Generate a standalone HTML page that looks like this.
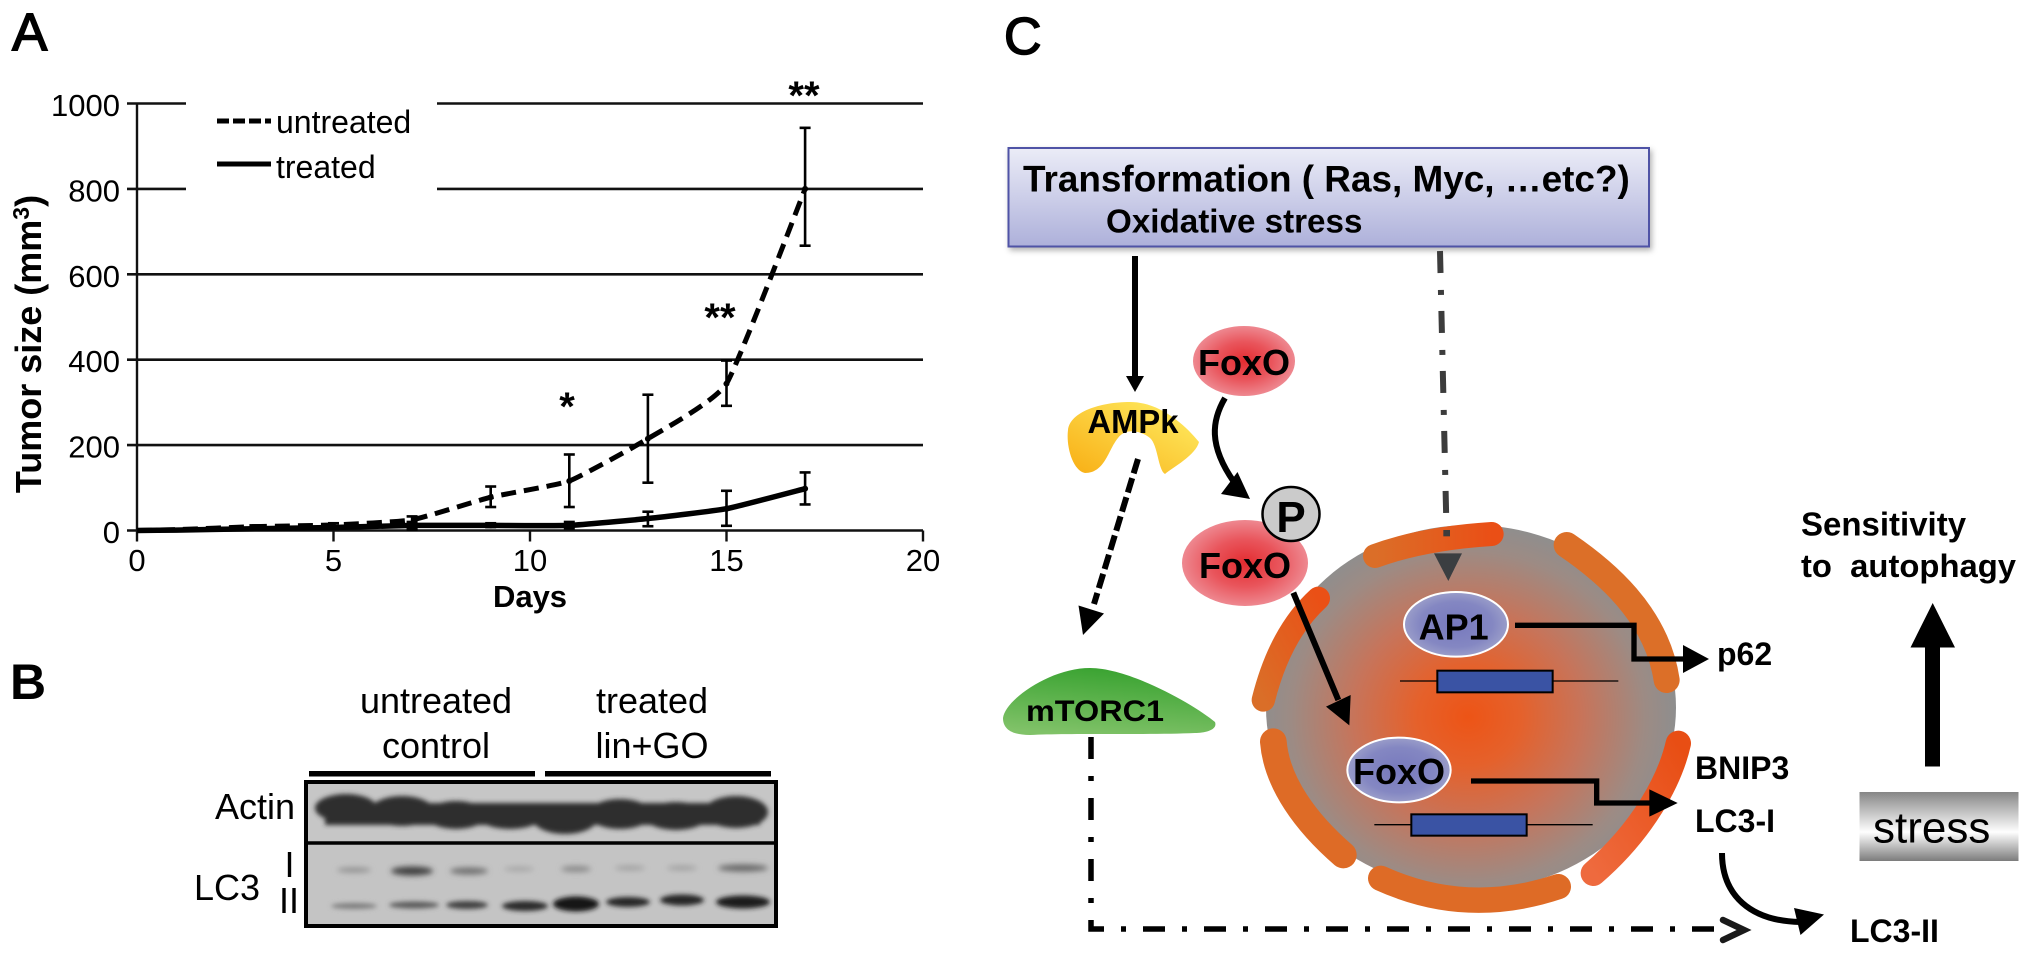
<!DOCTYPE html>
<html lang="en">
<head>
<meta charset="utf-8">
<title>Tumor growth, LC3 blot and FoxO autophagy pathway</title>
<style>
html,body{margin:0;padding:0;background:#fff;}
body{width:2031px;height:959px;overflow:hidden;}
svg{display:block;}
text{font-family:"Liberation Sans",Arial,sans-serif;fill:#000;white-space:pre;}
.b{font-weight:bold;}
</style>
</head>
<body>
<svg xmlns="http://www.w3.org/2000/svg" width="2031" height="959" viewBox="0 0 2031 959">
<defs>
  <linearGradient id="boxGrad" x1="0" y1="0" x2="0" y2="1"><stop offset="0" stop-color="#ebecf7"/><stop offset="1" stop-color="#adb0da"/></linearGradient>
  <radialGradient id="redGrad"><stop offset="0" stop-color="#e32c30"/><stop offset=".55" stop-color="#e9555c"/><stop offset="1" stop-color="#ee8890"/></radialGradient>
  <radialGradient id="blueGrad"><stop offset="0" stop-color="#7779bd"/><stop offset=".7" stop-color="#8487c2"/><stop offset="1" stop-color="#9a9dc9"/></radialGradient>
  <linearGradient id="ampkGrad" x1="0" y1="1" x2="1" y2="0"><stop offset="0" stop-color="#f8ae14"/><stop offset="1" stop-color="#fff066"/></linearGradient>
  <linearGradient id="mtorGrad" x1=".35" y1="1" x2=".6" y2="0"><stop offset="0" stop-color="#80c268"/><stop offset="1" stop-color="#38a230"/></linearGradient>
  <radialGradient id="nucGrad" gradientUnits="userSpaceOnUse" cx="0" cy="0" r="1" gradientTransform="translate(1468 717) scale(208 195)">
    <stop offset="0" stop-color="#ed5416"/><stop offset=".25" stop-color="#e5612b"/><stop offset=".55" stop-color="#c7745a"/><stop offset=".85" stop-color="#9d8b84"/><stop offset="1" stop-color="#8e8e8e"/>
  </radialGradient>
  <linearGradient id="memA" x1="0" y1="0" x2="1" y2="0"><stop offset="0" stop-color="#db6e28"/><stop offset="1" stop-color="#ea4f16"/></linearGradient>
  <linearGradient id="memB" x1="1" y1="0" x2="0" y2="1"><stop offset="0" stop-color="#ea5016"/><stop offset="1" stop-color="#da6e28"/></linearGradient>
  <linearGradient id="memC" x1="1" y1="0" x2="0" y2="1"><stop offset="0" stop-color="#e84e14"/><stop offset="1" stop-color="#ee6a3e"/></linearGradient>
  <linearGradient id="stressGrad" x1="0" y1="0" x2="0" y2="1"><stop offset="0" stop-color="#868686"/><stop offset=".58" stop-color="#ffffff"/><stop offset="1" stop-color="#7c7c7c"/></linearGradient>
  <filter id="blotBlur" x="-20%" y="-60%" width="140%" height="220%"><feGaussianBlur stdDeviation="2.4"/></filter>
  <filter id="blotBlurSoft" x="-30%" y="-100%" width="160%" height="300%"><feGaussianBlur stdDeviation="3"/></filter>
  <filter id="boxShadow" x="-3%" y="-10%" width="106%" height="125%"><feDropShadow dx="2" dy="3" stdDeviation="3" flood-color="#000" flood-opacity=".3"/></filter>
</defs>

<!-- PANEL A -->
<g>
  <text x="12" y="50" font-size="53" stroke="#000" stroke-width="1.5">A</text>
  <g id="grid"></g>
  <rect x="186" y="95" width="251" height="105" fill="#fff"/>
  <g id="axes"></g>
  <g id="errors"></g>
  <g id="series"></g>
  <text class="b" x="0" y="0" font-size="36" text-anchor="middle" transform="translate(41 344) rotate(-90)">Tumor size (mm<tspan dy="-12" font-size="23">3</tspan><tspan dy="12">)</tspan></text>
  <text class="b" x="530" y="607" font-size="31" text-anchor="middle">Days</text>
  <g>
    <line x1="217" y1="121" x2="271" y2="121" stroke="#000" stroke-width="5" stroke-dasharray="12 4"/>
    <text x="276" y="133" font-size="32">untreated</text>
    <line x1="217" y1="164" x2="271" y2="164" stroke="#000" stroke-width="5"/>
    <text x="276" y="178" font-size="32">treated</text>
  </g>
  <text class="b" x="804" y="109" font-size="40" text-anchor="middle">**</text>
  <text class="b" x="720" y="331" font-size="40" text-anchor="middle">**</text>
  <text class="b" x="567" y="420" font-size="40" text-anchor="middle">*</text>
</g>

<!-- PANEL B -->
<g>
  <text class="b" x="10" y="699" font-size="50">B</text>
  <text x="436" y="713" font-size="36" text-anchor="middle">untreated</text>
  <text x="436" y="758" font-size="36" text-anchor="middle">control</text>
  <text x="652" y="713" font-size="36" text-anchor="middle">treated</text>
  <text x="652" y="758" font-size="36" text-anchor="middle">lin+GO</text>
  <rect x="309" y="771" width="226" height="5.5"/>
  <rect x="545" y="771" width="226" height="5.5"/>
  <text x="215" y="819" font-size="36">Actin</text>
  <text x="194" y="900" font-size="36">LC3</text>
  <text x="289.5" y="877" font-size="36" text-anchor="middle">I</text>
  <text x="289" y="913" font-size="36" text-anchor="middle">II</text>
  <g>
    <rect x="306" y="782" width="470" height="61" fill="#c6c6c6"/>
    <rect x="306" y="843" width="470" height="83" fill="#c4c4c4"/>
    <g fill="#2d2d2d" filter="url(#blotBlur)">
      <rect x="325" y="803" width="435" height="22"/>
      <ellipse cx="346" cy="808" rx="31" ry="14"/><ellipse cx="402" cy="811" rx="32" ry="15"/>
      <ellipse cx="456" cy="815" rx="31" ry="14"/><ellipse cx="510" cy="816" rx="32" ry="13"/>
      <ellipse cx="565" cy="819" rx="32" ry="15"/><ellipse cx="620" cy="814" rx="32" ry="15"/>
      <ellipse cx="676" cy="816" rx="32" ry="14"/><ellipse cx="736" cy="812" rx="32" ry="16"/>
    </g>
    <g filter="url(#blotBlurSoft)">
      <ellipse cx="354" cy="870" rx="17" ry="2.5" fill="#8e8e8e"/><ellipse cx="412" cy="871" rx="21" ry="4.5" fill="#404040"/>
      <ellipse cx="469" cy="871" rx="19" ry="3.5" fill="#707070"/><ellipse cx="519" cy="869" rx="15" ry="2" fill="#a0a0a0"/>
      <ellipse cx="576" cy="869" rx="15" ry="3" fill="#888"/><ellipse cx="630" cy="868" rx="15" ry="2.5" fill="#a0a0a0"/>
      <ellipse cx="682" cy="868" rx="15" ry="2.5" fill="#a0a0a0"/><ellipse cx="743" cy="868" rx="25" ry="3.5" fill="#666"/>
    </g>
    <g filter="url(#blotBlur)">
      <ellipse cx="354" cy="906" rx="23" ry="3" fill="#7e7e7e"/><ellipse cx="414" cy="905" rx="25" ry="3.5" fill="#5c5c5c"/>
      <ellipse cx="467" cy="905" rx="21" ry="4" fill="#404040"/><ellipse cx="525" cy="906" rx="23" ry="5" fill="#2a2a2a"/>
      <ellipse cx="576" cy="904" rx="23" ry="7.5" fill="#141414"/><ellipse cx="628" cy="902" rx="22" ry="5" fill="#282828"/>
      <ellipse cx="682" cy="900" rx="22" ry="5.5" fill="#262626"/><ellipse cx="743" cy="902" rx="27" ry="6.5" fill="#1e1e1e"/>
    </g>
    <rect x="306" y="782" width="470" height="144" fill="none" stroke="#000" stroke-width="4"/>
    <line x1="306" y1="843" x2="776" y2="843" stroke="#000" stroke-width="3.5"/>
  </g>
</g>

<!-- PANEL C -->
<g>
  <text x="1004" y="54" font-size="52" stroke="#000" stroke-width="1.5">C</text>

  <rect x="1008.5" y="148" width="640.5" height="98.5" fill="url(#boxGrad)" stroke="#4f52a6" stroke-width="2" filter="url(#boxShadow)"/>
  <text class="b" x="1023" y="191.5" font-size="36.9">Transformation ( Ras, Myc, …etc?)</text>
  <text class="b" x="1106" y="232.5" font-size="33.2">Oxidative stress</text>

  <g>
    <line x1="1135" y1="256" x2="1135" y2="378" stroke="#000" stroke-width="6"/>
    <polygon points="1126,376 1144,376 1135,392" fill="#000"/>
  </g>

  <path d="M1440,251 L1446.7,538" fill="none" stroke="#3c3c3c" stroke-width="6" stroke-dasharray="22 17 5 16"/>

  <path d="M1085,473 C1072,470 1066,445 1068,430 C1070,412 1100,402 1130,402 C1160,402 1185,425 1199,442 C1196,455 1172,468 1165,474 C1158,470 1158,445 1150,438 C1140,430 1125,428 1118,438 C1108,450 1105,473 1085,473 Z" fill="url(#ampkGrad)"/>
  <text class="b" x="1133" y="433" font-size="33" text-anchor="middle" textLength="91" lengthAdjust="spacingAndGlyphs">AMPk</text>

  <g>
    <line x1="1138" y1="459" x2="1094" y2="604" stroke="#000" stroke-width="6" stroke-dasharray="15 5"/>
    <polygon points="1078.5,605.5 1104,613.5 1083,635" fill="#000"/>
  </g>

  <path d="M1003,718 C1005,700 1050,668 1090,668 C1130,668 1195,705 1215,722 C1218,730 1205,733 1195,733 C1150,735 1070,733 1030,735 C1010,735 1003,728 1003,718 Z" fill="url(#mtorGrad)"/>
  <text class="b" x="1026" y="721" font-size="30" textLength="138" lengthAdjust="spacingAndGlyphs">mTORC1</text>

  <g>
    <path d="M1091,737 V929 H1714" fill="none" stroke="#000" stroke-width="5.5" stroke-dasharray="22 17 5 17"/>
    <path d="M1723,920 L1744,930 L1723,940" fill="none" stroke="#1a1a1a" stroke-width="6.5" stroke-linecap="round" stroke-linejoin="miter"/>
  </g>

  <ellipse cx="1244" cy="361" rx="51" ry="35" fill="url(#redGrad)"/>
  <text class="b" x="1244" y="375" font-size="36" text-anchor="middle">FoxO</text>

  <g>
    <path d="M1225,398 C1212,420 1208,445 1234,482" fill="none" stroke="#000" stroke-width="6"/>
    <polygon points="1221,494 1237.5,472 1250,499" fill="#000"/>
  </g>

  <ellipse cx="1471" cy="707.5" rx="205" ry="182.5" fill="url(#nucGrad)"/>

  <g transform="translate(1250 510) scale(.33333)">
    <g fill="none" stroke-linecap="round">
      <path d="M375,138 Q520,85 725,72" stroke="url(#memA)" stroke-width="72"/>
      <path d="M205,265 Q90,370 40,570" stroke="url(#memB)" stroke-width="70"/>
      <path d="M70,695 C80,820 170,940 280,1035" stroke="#de6b26" stroke-width="80"/>
      <path d="M392,1105 Q650,1222 925,1130" stroke="#de6b26" stroke-width="76"/>
      <path d="M1285,700 C1260,810 1180,960 1030,1090" stroke="url(#memC)" stroke-width="76"/>
      <path d="M950,105 C1060,180 1220,310 1250,510" stroke="#dc6f28" stroke-width="78"/>
    </g>
    <rect x="580" y="60" width="20" height="19" fill="#3c3c3c"/>
    <polygon points="552,130 636,130 595,213" fill="#3b3e41"/>

    <ellipse cx="618" cy="343" rx="156" ry="97" fill="url(#blueGrad)" stroke="#fff" stroke-width="6"/>
    <ellipse cx="447" cy="780" rx="155" ry="97" fill="url(#blueGrad)" stroke="#fff" stroke-width="6"/>

    <g>
      <line x1="450" y1="513" x2="1105" y2="513" stroke="#000" stroke-width="4"/>
      <rect x="562" y="482" width="346" height="65" fill="#3a53a4" stroke="#000" stroke-width="6"/>
    </g>
    <g>
      <line x1="373" y1="944" x2="1028" y2="944" stroke="#000" stroke-width="4"/>
      <rect x="484" y="913" width="346" height="64" fill="#3a53a4" stroke="#000" stroke-width="6"/>
    </g>

    <g>
      <path d="M795,346 H1152 V447 H1305" fill="none" stroke="#000" stroke-width="16"/>
      <polygon points="1299,405 1299,489 1377,447" fill="#000"/>
    </g>
    <g>
      <path d="M663,813 H1040 V879 H1205" fill="none" stroke="#000" stroke-width="16"/>
      <polygon points="1198,838 1198,920 1283,879" fill="#000"/>
    </g>
    <g>
      <line x1="130" y1="248" x2="265" y2="570" stroke="#000" stroke-width="18"/>
      <polygon points="228,590 302,555 298,646" fill="#000"/>
    </g>
  </g>

  <ellipse cx="1245" cy="563" rx="63" ry="43" fill="url(#redGrad)"/>
  <text class="b" x="1245" y="578" font-size="36" text-anchor="middle">FoxO</text>
  <ellipse cx="1291" cy="514" rx="28.5" ry="27" fill="#cbcbcb" stroke="#000" stroke-width="2.5"/>
  <text class="b" x="1291" y="532" font-size="44" text-anchor="middle">P</text>

  <text class="b" x="1453.7" y="639.3" font-size="36" text-anchor="middle">AP1</text>
  <text class="b" x="1399" y="784" font-size="36" text-anchor="middle">FoxO</text>

  <text class="b" x="1717" y="665" font-size="32">p62</text>
  <text class="b" x="1695" y="779" font-size="32">BNIP3</text>
  <text class="b" x="1695" y="832" font-size="32">LC3-I</text>
  <text class="b" x="1850" y="942" font-size="32">LC3-II</text>

  <g>
    <path d="M1722,853 C1722,895 1750,921 1800,922" fill="none" stroke="#000" stroke-width="6"/>
    <polygon points="1794,908 1824,914.5 1800.5,935" fill="#000"/>
  </g>

  <text class="b" x="1801" y="535.5" font-size="33">Sensitivity</text>
  <text class="b" x="1801" y="577" font-size="32.8">to  autophagy</text>

  <g>
    <rect x="1925" y="646" width="15" height="120.5" fill="#000"/>
    <polygon points="1910.5,647.5 1955,647.5 1932.7,603" fill="#000"/>
  </g>

  <rect x="1859.5" y="792" width="159" height="69" fill="url(#stressGrad)"/>
  <text x="1873" y="842.5" font-size="44">stress</text>
</g>

<script>
// Panel A data
const xTicks = [0, 5, 10, 15, 20];
const yTicks = [0, 200, 400, 600, 800, 1000];
const days = [0, 1, 3, 5, 7, 9, 11, 13, 15, 17];
const untreated = [0, 2, 9, 13, 25, 78, 116, 215, 344, 800];
const untreatedHigh = [0, 3, 12, 17, 33, 103, 178, 318, 398, 943];
const untreatedLow = [0, 1, 6, 9, 2, 55, 55, 112, 292, 667];
const treated = [0, 1, 4, 7, 12, 12, 12, 28, 51, 98];
const treatedHigh = [0, 1, 6, 10, 20, 17, 20, 44, 93, 136];
const treatedLow = [0, 1, 2, 4, 4, 8, 5, 10, 11, 61];

const NS = 'http://www.w3.org/2000/svg';
const xScale = function (d) { return 137 + d * 39.3; };
const yScale = function (v) { return 530.5 - v * 0.427; };

function make(tag, parent, attrs) {
  const el = document.createElementNS(NS, tag);
  Object.keys(attrs).forEach(function (k) { el.setAttribute(k, attrs[k]); });
  parent.appendChild(el);
  return el;
}

function smoothPath(xs, ys) {
  const pts = xs.map(function (d, i) { return [xScale(d), yScale(ys[i])]; });
  let d = 'M' + pts[0][0] + ',' + pts[0][1];
  for (let i = 0; i < pts.length - 1; i++) {
    const p0 = pts[Math.max(i - 1, 0)];
    const p1 = pts[i];
    const p2 = pts[i + 1];
    const p3 = pts[Math.min(i + 2, pts.length - 1)];
    const k = 1 / 14;
    d += ' C' + (p1[0] + (p2[0] - p0[0]) * k) + ',' + (p1[1] + (p2[1] - p0[1]) * k) +
         ' ' + (p2[0] - (p3[0] - p1[0]) * k) + ',' + (p2[1] - (p3[1] - p1[1]) * k) +
         ' ' + p2[0] + ',' + p2[1];
  }
  return d;
}

const gridG = document.getElementById('grid');
const axesG = document.getElementById('axes');
const errG = document.getElementById('errors');
const seriesG = document.getElementById('series');

yTicks.forEach(function (v) {
  const y = yScale(v);
  const line = make('line', v === 0 ? axesG : gridG, { x1: 127, x2: xScale(20), y1: y, y2: y, stroke: '#111', 'stroke-width': 2.6 });
  
  
  const label = make('text', axesG, { x: 120, y: y + 12.5, 'font-size': 31, 'text-anchor': 'end' });
  label.textContent = String(v);
  
  
});

const yAxis = make('line', axesG, { x1: xScale(0), x2: xScale(0), y1: yScale(1000), y2: yScale(0), stroke: '#111', 'stroke-width': 2.4 });



xTicks.forEach(function (d) {
  const x = xScale(d);
  const tick = make('line', axesG, { x1: x, x2: x, y1: yScale(0), y2: yScale(0) + 11, stroke: '#111', 'stroke-width': 2.4 });
  
  
  const label = make('text', axesG, { x: x, y: 571, 'font-size': 31, 'text-anchor': 'middle' });
  label.textContent = String(d);
  
  
});

function drawErrors(highs, lows) {
  days.forEach(function (d, i) {
    if (d === 0 || d === 1) return;
    const x = xScale(d);
    const hi = yScale(highs[i]);
    const lo = yScale(lows[i]);
    const stem = make('line', errG, { x1: x, x2: x, y1: hi, y2: lo, stroke: '#000', 'stroke-width': 2.6 });
    
    
    const capHi = make('line', errG, { x1: x - 5.5, x2: x + 5.5, y1: hi, y2: hi, stroke: '#000', 'stroke-width': 2.6 });
    
    
    const capLo = make('line', errG, { x1: x - 5.5, x2: x + 5.5, y1: lo, y2: lo, stroke: '#000', 'stroke-width': 2.6 });
    
    
  });
}
drawErrors(untreatedHigh, untreatedLow);
drawErrors(treatedHigh, treatedLow);

const untreatedLine = make('path', seriesG, { d: smoothPath(days, untreated), fill: 'none', stroke: '#000', 'stroke-width': 5, 'stroke-dasharray': '15 8' });



const treatedLine = make('path', seriesG, { d: smoothPath(days, treated), fill: 'none', stroke: '#000', 'stroke-width': 5.5 });



days.forEach(function (d, i) {
  if (d < 9) return;
  const u = make('circle', seriesG, { cx: xScale(d), cy: yScale(untreated[i]), r: 3, fill: '#000' });
  
  
  const t = make('circle', seriesG, { cx: xScale(d), cy: yScale(treated[i]), r: 3, fill: '#000' });
  
  
});
</script>
</svg>
</body>
</html>
